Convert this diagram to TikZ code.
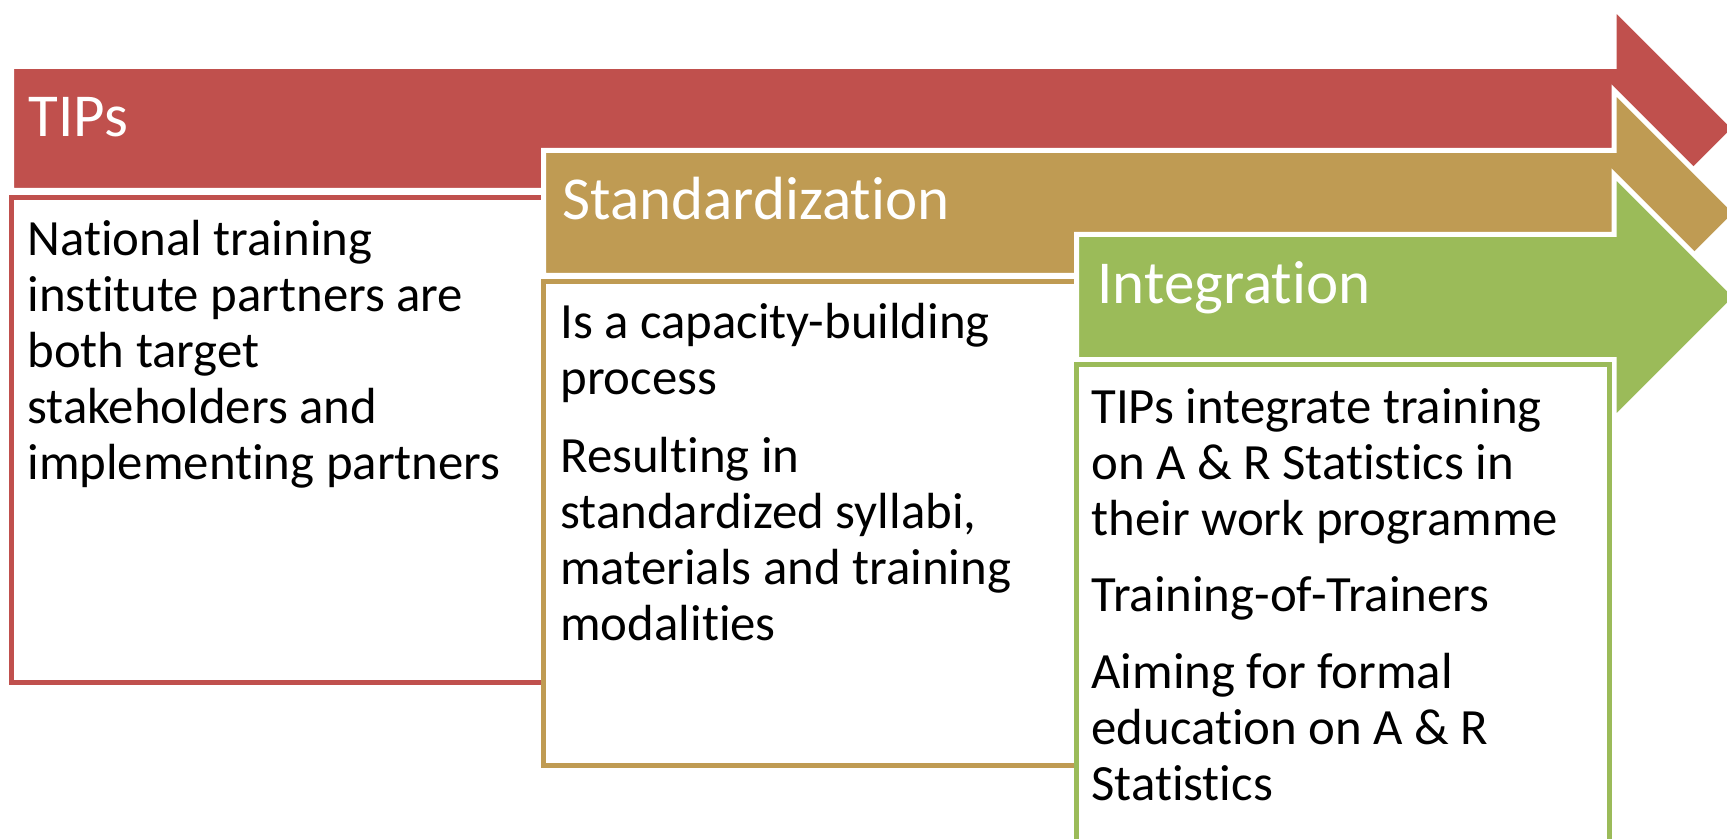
\documentclass[tikz,border=0pt]{standalone}
\usepackage{fontspec}
\setmainfont{Carlito}[Ligatures={NoCommon}]
\definecolor{cred}{HTML}{C0504D}
\definecolor{ctan}{HTML}{BF9B53}
\definecolor{cgreen}{HTML}{9BBB59}
\newcommand{\firstln}{\rule{0pt}{22pt}}
\begin{document}
\begin{tikzpicture}[x=0.5pt,y=-0.5pt,
  arrowshape/.style={fill=#1, draw=white, line width=2.5pt, line join=miter},
  boxshape/.style={fill=white, draw=#1, line width=2.5pt},
  title/.style={anchor=base west, inner sep=0pt, text=white, font=\fontsize{30.5}{34}\selectfont},
  body/.style={anchor=north west, inner sep=0pt, align=left, font=\fontsize{25.4}{28}\selectfont}]
\useasboundingbox (0,0) rectangle (1727,839);
\clip (0,0) rectangle (1727,839);
% red stage
\draw[arrowshape=cred] (11.5,66.5) -- (1614,66.5) -- (1614,7.5) -- (1735,128.5) -- (1614,249.5) -- (1614,190.5) -- (11.5,190.5) -- cycle;
\draw[boxshape=cred] (11.5,197.5) rectangle (1200,682);
% tan stage
\draw[arrowshape=ctan] (543.5,150.5) -- (1614,150.5) -- (1614,90.5) -- (1736.5,213) -- (1614,335.5) -- (1614,275.5) -- (543.5,275.5) -- cycle;
\draw[boxshape=ctan] (543.5,281.5) rectangle (1500,765.5);
% green stage
\draw[arrowshape=cgreen] (1076.5,234.5) -- (1614,234.5) -- (1614,174.5) -- (1736.5,297) -- (1614,419.5) -- (1614,359.5) -- (1076.5,359.5) -- cycle;
\draw[boxshape=cgreen] (1076.5,364.5) rectangle (1609,950);
% titles
\node[title] (t1) at (28,137) {TIPs};
\node[title] (t2) at (562,220) {Standardization};
\node[title] (t3) at (1097,304) {Integration};
% bodies (top = first baseline - 44)
\node[body] (b1) at (27,211) {\firstln National training\\institute partners are\\both target\\stakeholders and\\implementing partners};
\node[body] (b2a) at (560,294) {\firstln Is a capacity-building\\process};
\node[body] (b2b) at (560,428) {\firstln Resulting in\\standardized syllabi,\\materials and training\\modalities};
\node[body] (b3a) at (1091,379) {\firstln TIPs integrate training\\on A \& R Statistics in\\their work programme};
\node[body] (b3b) at (1091,567) {\firstln Training-of-Trainers};
\node[body] (b3c) at (1091,644) {\firstln Aiming for formal\\education on A \& R\\Statistics};
\end{tikzpicture}
\end{document}
